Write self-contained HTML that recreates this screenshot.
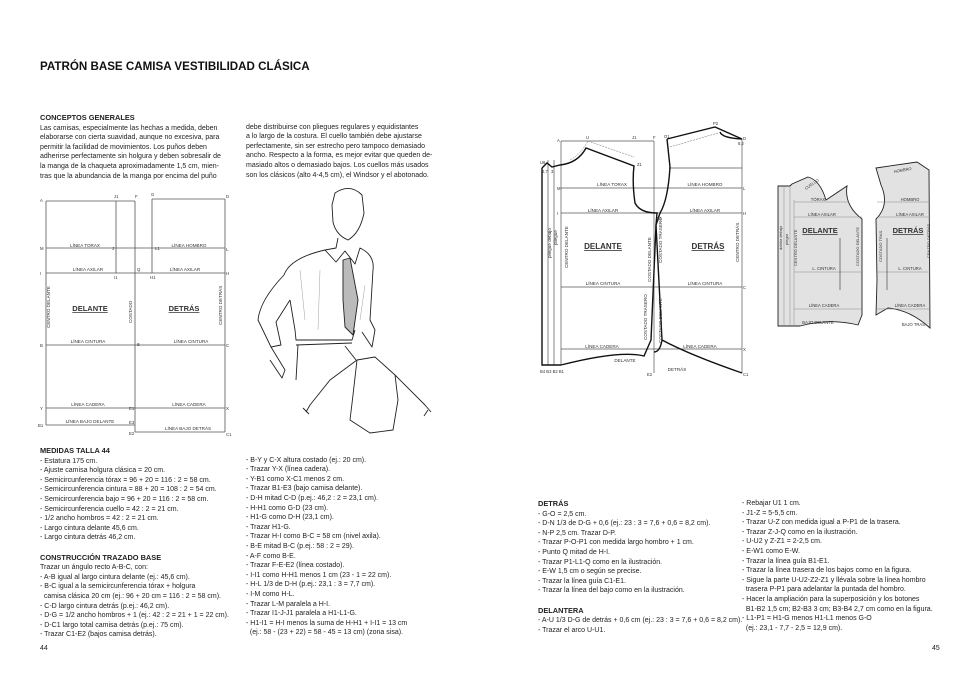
<!DOCTYPE html>
<html><head><meta charset="utf-8"><style>
body{margin:0;background:#fff;}
#p{position:relative;width:980px;height:700px;overflow:hidden;background:#fff;font-family:"Liberation Sans",sans-serif;color:#222;}
.t{position:absolute;font-size:7px;line-height:9.6px;white-space:pre;}
.h{font-weight:bold;font-size:7.4px;}
svg{position:absolute;left:0;top:0;}
svg text{font-family:"Liberation Sans",sans-serif;}
</style></head><body><div id="p">
<div class="t" style="left:40px;top:60px;font-size:11.6px;line-height:14px;font-weight:bold;color:#111">PATRÓN BASE CAMISA VESTIBILIDAD CLÁSICA</div>

<div class="t" style="left:40px;top:113px"><span class="h">CONCEPTOS GENERALES</span>
Las camisas, especialmente las hechas a medida, deben
elaborarse con cierta suavidad, aunque no excesiva, para
permitir la facilidad de movimientos. Los puños deben
adherirse perfectamente sin holgura y deben sobresalir de
la manga de la chaqueta aproximadamente 1,5 cm, mien-
tras que la abundancia de la manga por encima del puño</div>
<div class="t" style="left:246px;top:122.6px">debe distribuirse con pliegues regulares y equidistantes
a lo largo de la costura. El cuello también debe ajustarse
perfectamente, sin ser estrecho pero tampoco demasiado
ancho. Respecto a la forma, es mejor evitar que queden de-
masiado altos o demasiado bajos. Los cuellos más usados
son los clásicos (alto 4-4,5 cm), el Windsor y el abotonado.</div>

<div class="t" style="left:40px;top:446px"><span class="h">MEDIDAS TALLA 44</span>
- Estatura 175 cm.
- Ajuste camisa holgura clásica = 20 cm.
- Semicircunferencia tórax = 96 + 20 = 116 : 2 = 58 cm.
- Semicircunferencia cintura = 88 + 20 = 108 : 2 = 54 cm.
- Semicircunferencia bajo = 96 + 20 = 116 : 2 = 58 cm.
- Semicircunferencia cuello = 42 : 2 = 21 cm.
- 1/2 ancho hombros = 42 : 2 = 21 cm.
- Largo cintura delante 45,6 cm.
- Largo cintura detrás 46,2 cm.

<span class="h">CONSTRUCCIÓN TRAZADO BASE</span>
Trazar un ángulo recto A-B-C, con:
- A-B igual al largo cintura delante (ej.: 45,6 cm).
- B-C igual a la semicircunferencia tórax + holgura
  camisa clásica 20 cm (ej.: 96 + 20 cm = 116 : 2 = 58 cm).
- C-D largo cintura detrás (p.ej.: 46,2 cm).
- D-G = 1/2 ancho hombros + 1 (ej.: 42 : 2 = 21 + 1 = 22 cm).
- D-C1 largo total camisa detrás (p.ej.: 75 cm).
- Trazar C1-E2 (bajos camisa detrás).</div>
<div class="t" style="left:246px;top:455.6px">- B-Y y C-X altura costado (ej.: 20 cm).
- Trazar Y-X (línea cadera).
- Y-B1 como X-C1 menos 2 cm.
- Trazar B1-E3 (bajo camisa delante).
- D-H mitad C-D (p.ej.: 46,2 : 2 = 23,1 cm).
- H-H1 como G-D (23 cm).
- H1-G como D-H (23,1 cm).
- Trazar H1-G.
- Trazar H-I como B-C = 58 cm (nivel axila).
- B-E mitad B-C (p.ej.: 58 : 2 = 29).
- A-F como B-E.
- Trazar F-E-E2 (línea costado).
- I-I1 como H-H1 menos 1 cm (23 - 1 = 22 cm).
- H-L 1/3 de D-H (p.ej.: 23,1 : 3 = 7,7 cm).
- I-M como H-L.
- Trazar L-M paralela a H-I.
- Trazar I1-J-J1 paralela a H1-L1-G.
- H1-I1 = H-I menos la suma de H-H1 + I-I1 = 13 cm
  (ej.: 58 - (23 + 22) = 58 - 45 = 13 cm) (zona sisa).</div>
<div class="t" style="left:40px;top:644px">44</div>

<div class="t" style="left:538px;top:499px"><span class="h">DETRÁS</span>
- G-O = 2,5 cm.
- D-N 1/3 de D-G + 0,6 (ej.: 23 : 3 = 7,6 + 0,6 = 8,2 cm).
- N-P 2,5 cm. Trazar D-P.
- Trazar P-O-P1 con medida largo hombro + 1 cm.
- Punto Q mitad de H-I.
- Trazar P1-L1-Q como en la ilustración.
- E-W 1,5 cm o según se precise.
- Trazar la línea guía C1-E1.
- Trazar la línea del bajo como en la ilustración.

<span class="h">DELANTERA</span>
- A-U 1/3 D-G de detrás + 0,6 cm (ej.: 23 : 3 = 7,6 + 0,6 = 8,2 cm).
- Trazar el arco U-U1.</div>
<div class="t" style="left:742px;top:499px">- Rebajar U1 1 cm.
- J1-Z = 5-5,5 cm.
- Trazar U-Z con medida igual a P-P1 de la trasera.
- Trazar Z-J-Q como en la ilustración.
- U-U2 y Z-Z1 = 2-2,5 cm.
- E-W1 como E-W.
- Trazar la línea guía B1-E1.
- Trazar la línea trasera de los bajos como en la figura.
- Sigue la parte U-U2-Z2-Z1 y llévala sobre la línea hombro
  trasera P-P1 para adelantar la puntada del hombro.
- Hacer la ampliación para la superposición y los botones
  B1-B2 1,5 cm; B2-B3 3 cm; B3-B4 2,7 cm como en la figura.
- L1-P1 = H1-G menos H1-L1 menos G-O
  (ej.: 23,1 - 7,7 - 2,5 = 12,9 cm).</div>
<div class="t" style="left:932px;top:644px">45</div>

<svg width="980" height="700" viewBox="0 0 980 700" font-size="4.6" fill="#333">
<g stroke="#555" stroke-width="0.8" fill="none">
<path d="M46 201H135M152 199H225M46 201V425M225 199V432M135 201V432M116 201V273M152 199V273M46 248H225M46 273H225M46 345H225M46 408H225M46 425H135M135 432H225"/>
</g>
<g text-anchor="middle">
<text x="85" y="247">LÍNEA TORAX</text><text x="189" y="247">LÍNEA HOMBRO</text>
<text x="88" y="271">LÍNEA AXILAR</text><text x="185" y="271">LÍNEA AXILAR</text>
<text x="88" y="343">LÍNEA CINTURA</text><text x="191" y="343">LÍNEA CINTURA</text>
<text x="88" y="406">LÍNEA CADERA</text><text x="189" y="406">LÍNEA CADERA</text>
<text x="90" y="423">LÍNEA BAJO DELANTE</text><text x="188" y="430">LÍNEA BAJO DETRÁS</text>
<text x="90" y="311" font-size="7.5" font-weight="bold" text-decoration="underline">DELANTE</text>
<text x="184" y="311" font-size="7.5" font-weight="bold" text-decoration="underline">DETRÁS</text>
</g>
<text transform="translate(50,328) rotate(-90)">CENTRO DELANTE</text>
<text transform="translate(132,323) rotate(-90)">COSTADO</text>
<text transform="translate(222,325) rotate(-90)">CENTRO DETRÁS</text>
<g font-size="4.3"><text x="40" y="202">A</text><text x="114" y="198">J1</text><text x="135" y="198">F</text><text x="151" y="196">G</text><text x="226" y="198">D</text><text x="40" y="250">M</text><text x="226" y="251">L</text><text x="40" y="275">I</text><text x="226" y="275">H</text><text x="114" y="279">I1</text><text x="150" y="279">H1</text><text x="40" y="347">B</text><text x="137" y="346">E</text><text x="226" y="347">C</text><text x="40" y="410">Y</text><text x="129" y="410">E1</text><text x="226" y="410">X</text><text x="38" y="427">B1</text><text x="129" y="424">E3</text><text x="129" y="435">E2</text><text x="226" y="436">C1</text><text x="155" y="250">L1</text><text x="112" y="250">J</text><text x="137" y="271">Q</text></g>

<g stroke="#222" stroke-width="0.9" fill="none" stroke-linejoin="round">
<path d="M335 193 Q350 183 362 195 L364 213 Q360 233 348 240 Q336 235 333 222 L332 205 Z"/>
<path d="M338 238 L336 248 L325 250 Q290 258 284 275 Q260 300 258 320 L271 347 L281 345 L276 322 L290 300"/>
<path d="M325 250 L336 262 L345 251 L355 264 L360 248 Q375 255 373 270 L370 320 L375 330 L372 347 L362 332"/>
<path d="M290 300 L295 330 L296 340 L352 340 L355 330 M296 345 L352 343 M298 345 L296 380 M345 346 L356 360"/>
<path d="M343 260 L350 258 L358 300 L353 335 L345 327 L343 300 Z" fill="#bbb"/>
<path d="M271 347 L285 370 L282 378 L270 360"/>
<path d="M357 360 L375 357 L395 375 L398 400 L393 430 L370 433 L350 420 L353 395 Z M357 360 L330 380 L310 405 L306 412 M395 375 L425 405 L431 412"/>
<path d="M303 408 l6 6 M428 410 l-4 6"/>
</g>
<g stroke="#888" stroke-width="0.4"><path d="M300 270 L305 320 M320 270 L318 330 M365 285 L360 320"/></g>

<g stroke="#555" stroke-width="0.7" fill="none">
<path d="M561 141H654M654 141V373M561 141V365M561 188H742M561 213H742M561 287H742M561 349H742M742 139V373M669 168H742M554 160V365M548 160V365"/>
</g>
<g stroke="#111" stroke-width="1.4" fill="none">
<path d="M542 168 V365 H561 M542 168 L547 163 L552 167 L560 165 Q578 163 586 148 L634 166 Q632 182 635 203 Q640 213 657 213 L656 225 L651 340 L644 356 Q620 350 561 365"/>
<path d="M667 139 L715 127 L742 139 Q722 138 720 132"/>
<path d="M667 139 L670 167 Q668 200 660 213 L656 225 L662 340 Q690 355 742 373 M662 340 Q660 352 654 352"/>
</g>
<g stroke="#666" stroke-width="0.5" stroke-dasharray="2 1" fill="none"><path d="M588 141 L634 157 M670 147 L718 133 M570 160 Q580 155 588 141"/></g>
<g text-anchor="middle">
<text x="612" y="186">LÍNEA TORAX</text><text x="705" y="186">LÍNEA HOMBRO</text>
<text x="603" y="212">LÍNEA AXILAR</text><text x="705" y="212">LÍNEA AXILAR</text>
<text x="603" y="285">LÍNEA CINTURA</text><text x="705" y="285">LÍNEA CINTURA</text>
<text x="602" y="348">LÍNEA CADERA</text><text x="700" y="348">LÍNEA CADERA</text>
<text x="625" y="362">DELANTE</text><text x="677" y="371">DETRÁS</text>
<text x="603" y="249" font-size="8" font-weight="bold" text-decoration="underline">DELANTE</text>
<text x="708" y="249" font-size="8" font-weight="bold" text-decoration="underline">DETRÁS</text>
</g>
<text transform="translate(568,268) rotate(-90)">CENTRO DELANTE</text>
<text transform="translate(739,262) rotate(-90)">CENTRO DETRÁS</text>
<text transform="translate(651,282) rotate(-90)">COSTADO DELANTE</text>
<text transform="translate(662,263) rotate(-90)">COSTADO TRASERO</text>
<text transform="translate(647,340) rotate(-90)">COSTADO TRASERO</text>
<text transform="translate(662,343) rotate(-90)">COSTADO DELANTE</text>
<text transform="translate(551,258) rotate(-90)">pliegue debajo</text>
<text transform="translate(557,245) rotate(-90)">pliegue</text>
<g font-size="4.2"><text x="557" y="142">A</text><text x="586" y="139">U</text><text x="632" y="139">J1</text><text x="653" y="139">F</text><text x="664" y="138">O1</text><text x="713" y="125">P2</text><text x="743" y="140">D</text><text x="738" y="145">8,2</text><text x="540" y="164">U6</text><text x="542" y="173">2,7</text><text x="551" y="173">3</text><text x="637" y="166">Z1</text><text x="557" y="190">M</text><text x="743" y="190">L</text><text x="557" y="215">I</text><text x="743" y="215">H</text><text x="743" y="289">C</text><text x="743" y="351">X</text><text x="743" y="376">C1</text><text x="540" y="373">B4 B3 B2 B1</text><text x="647" y="376">E2</text><text x="656" y="220">Q1</text></g>

<g stroke="#222" stroke-width="0.9" fill="#e2e2e2">
<path d="M778 186 L790 186 L792 184 L808 177 Q820 180 826 200 L847 186 Q844 205 862 219 L862 315 L858 325 Q830 318 800 326 L778 326 Z"/>
<path d="M876 168 L917 162 L929 170 L930 328 Q910 310 888 308 L876 315 L877 280 L876 219 Q890 205 881 185 Z"/>
</g>
<g stroke="#888" stroke-width="0.5"><path d="M784 186V326M790 186V326M794 200V326M794 202H849M794 217H862M794 272H862M794 309H862M877 202H930M877 217H930M877 272H930M877 309H930"/></g>
<g stroke="#333" stroke-width="0.6"><path d="M840 238V290M887 238V290"/></g>
<g text-anchor="middle" font-size="4.2">
<text x="818" y="201">TÓRAX</text><text x="910" y="201">HOMBRO</text>
<text x="822" y="216">LÍNEA AXILAR</text><text x="910" y="216">LÍNEA AXILAR</text>
<text x="824" y="270">L. CINTURA</text><text x="910" y="270">L. CINTURA</text>
<text x="824" y="307">LÍNEA CADERA</text><text x="910" y="307">LÍNEA CADERA</text>
<text x="818" y="324">BAJO DELANTE</text><text x="914" y="326">BAJO TRAS.</text>
<text x="820" y="233" font-size="7.5" font-weight="bold" text-decoration="underline">DELANTE</text>
<text x="908" y="233" font-size="7.5" font-weight="bold" text-decoration="underline">DETRÁS</text>
</g>
<g font-size="4"><text transform="translate(797,266) rotate(-90)">CENTRO DELANTE</text><text transform="translate(859,266) rotate(-90)">COSTADO DELANTE</text><text transform="translate(882,262) rotate(-90)">COSTADO TRAS.</text><text transform="translate(930,258) rotate(-90)">CENTRO DETRÁS</text><text transform="translate(782,250) rotate(-90)">doblar debajo</text><text transform="translate(788,245) rotate(-90)">plegar</text><text transform="translate(806,190) rotate(-35)">CUELLO</text><text transform="translate(894,173) rotate(-10)">HOMBRO</text></g>
</svg>
</div></body></html>
